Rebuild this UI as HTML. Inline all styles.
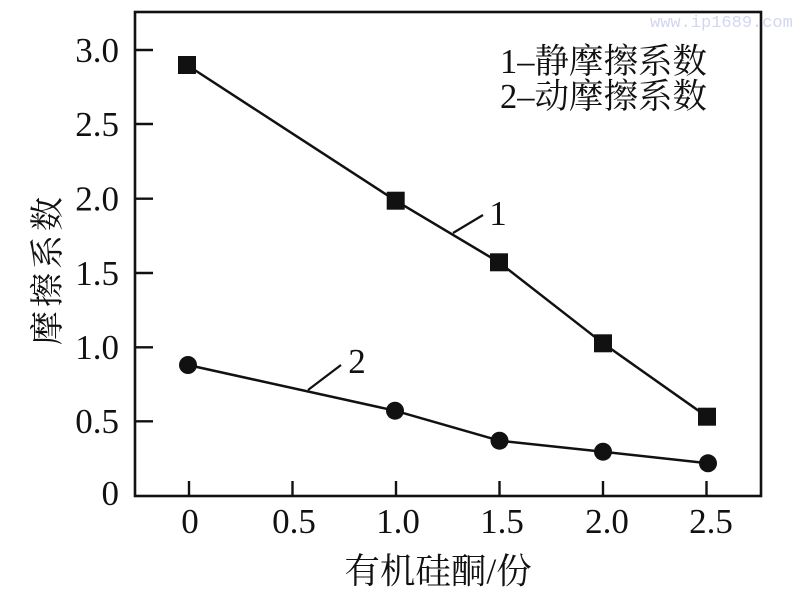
<!DOCTYPE html>
<html>
<head>
<meta charset="utf-8">
<style>
html,body{margin:0;padding:0;background:#fff;}
svg{display:block;}
.num{font-family:"Liberation Serif",serif;font-size:35px;fill:#111;}
.cjk{font-family:"Liberation Serif","Noto Serif CJK SC",serif;font-size:34px;fill:#111;}
</style>
</head>
<body>
<svg width="800" height="596" viewBox="0 0 800 596" xmlns="http://www.w3.org/2000/svg">
  <rect width="800" height="596" fill="#fff"/>
  <!-- watermark -->
  <text x="650" y="27" font-family="Liberation Mono, monospace" font-size="17" fill="#d2d6f0">www.ip1689.com</text>
  <!-- plot box -->
  <rect x="135" y="12" width="626" height="484" fill="none" stroke="#111" stroke-width="2.6"/>
  <!-- y ticks -->
  <g stroke="#111" stroke-width="2.4">
    <line x1="135" y1="50" x2="153" y2="50"/>
    <line x1="135" y1="124" x2="153" y2="124"/>
    <line x1="135" y1="198.7" x2="153" y2="198.7"/>
    <line x1="135" y1="273" x2="153" y2="273"/>
    <line x1="135" y1="347.3" x2="153" y2="347.3"/>
    <line x1="135" y1="421.3" x2="153" y2="421.3"/>
    <!-- x ticks -->
    <line x1="189" y1="496" x2="189" y2="481"/>
    <line x1="292.5" y1="496" x2="292.5" y2="481"/>
    <line x1="396" y1="496" x2="396" y2="481"/>
    <line x1="499.5" y1="496" x2="499.5" y2="481"/>
    <line x1="603" y1="496" x2="603" y2="481"/>
    <line x1="706.5" y1="496" x2="706.5" y2="481"/>
  </g>
  <!-- y tick labels -->
  <g class="num" text-anchor="end">
    <text x="119" y="62">3.0</text>
    <text x="119" y="136">2.5</text>
    <text x="119" y="210.5">2.0</text>
    <text x="119" y="285">1.5</text>
    <text x="119" y="359">1.0</text>
    <text x="119" y="433">0.5</text>
    <text x="119" y="505">0</text>
  </g>
  <!-- x tick labels -->
  <g class="num" text-anchor="middle">
    <text x="190" y="533">0</text>
    <text x="294" y="533">0.5</text>
    <text x="398" y="533">1.0</text>
    <text x="502" y="533">1.5</text>
    <text x="607" y="533">2.0</text>
    <text x="711" y="533">2.5</text>
  </g>
  <!-- axis titles -->
  <text class="cjk" x="438" y="583" text-anchor="middle" font-size="35" style="font-size:35.5px">有机硅酮/份</text>
  <text class="cjk" x="0" y="0" text-anchor="middle" letter-spacing="4" transform="translate(59,269) rotate(-90)">摩擦系数</text>
  <!-- legend -->
  <text class="cjk" x="500" y="73" style="font-size:34.5px">1–静摩擦系数</text>
  <text class="cjk" x="500" y="108" style="font-size:34.5px">2–动摩擦系数</text>
  <!-- series 1 -->
  <polyline points="187,65 395.7,200.7 499,262.3 603,343.3 707,416.7" fill="none" stroke="#111" stroke-width="2.5"/>
  <g fill="#111">
    <rect x="178" y="56" width="18" height="18"/>
    <rect x="386.7" y="191.7" width="18" height="18"/>
    <rect x="490" y="253.3" width="18" height="18"/>
    <rect x="594" y="334.3" width="18" height="18"/>
    <rect x="698" y="407.7" width="18" height="18"/>
  </g>
  <!-- series 2 -->
  <polyline points="188,365 395,410.7 499.5,440.7 603,451.7 708,463.3" fill="none" stroke="#111" stroke-width="2.5"/>
  <g fill="#111">
    <circle cx="188" cy="365" r="9"/>
    <circle cx="395" cy="410.7" r="9"/>
    <circle cx="499.5" cy="440.7" r="9"/>
    <circle cx="603" cy="451.7" r="9"/>
    <circle cx="708" cy="463.3" r="9"/>
  </g>
  <!-- curve labels -->
  <line x1="453" y1="233" x2="483" y2="215" stroke="#111" stroke-width="2.2"/>
  <text class="num" x="498" y="225" text-anchor="middle">1</text>
  <line x1="308" y1="390" x2="341" y2="365" stroke="#111" stroke-width="2.2"/>
  <text class="num" x="357" y="373" text-anchor="middle">2</text>
</svg>
</body>
</html>
